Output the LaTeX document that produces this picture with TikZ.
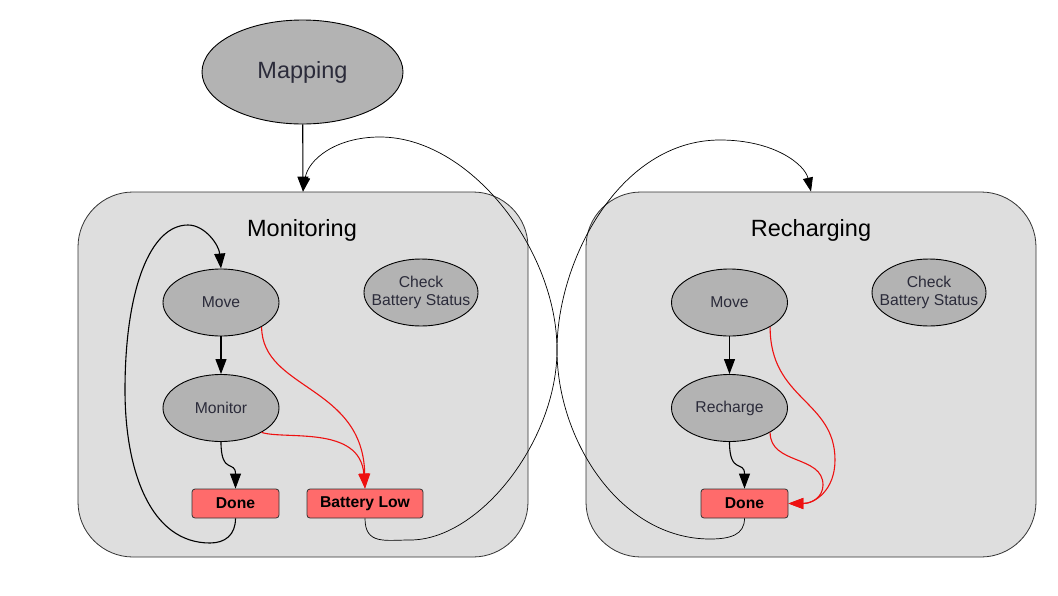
\documentclass[tikz,border=0pt]{standalone}
\usepackage{fontspec}
\setmainfont{Liberation Sans}
\usetikzlibrary{shapes.geometric,arrows.meta}
\definecolor{ellfill}{HTML}{B3B3B3}
\definecolor{boxfill}{HTML}{DEDEDE}
\definecolor{redfill}{HTML}{FF6B6B}
\definecolor{txt}{HTML}{2B2B3A}
\definecolor{edgered}{HTML}{EE1111}
\definecolor{outl}{HTML}{333333}
\begin{document}
\begin{tikzpicture}[x=1pt,y=-1pt,
  state/.style={ellipse, draw=black, line width=0.9pt, fill=ellfill, minimum width=116pt, minimum height=67pt, inner sep=0pt, font=\fontsize{15.7}{18}\selectfont, text=txt, align=center},
  outcome/.style={rectangle, rounded corners=3pt, draw=outl, line width=0.8pt, fill=redfill, minimum height=29pt, inner sep=0pt, font=\fontsize{15.7}{18}\selectfont\bfseries, text=black},
  container/.style={rectangle, rounded corners=55pt, draw=outl, line width=0.8pt, fill=boxfill, minimum width=450pt, minimum height=365pt},
  biglabel/.style={font=\fontsize{23.5}{28}\selectfont, text=black},
  conn/.style={line width=1.1pt, -{Triangle[length=15pt,width=11pt]}},
  redconn/.style={line width=1.1pt, draw=edgered, -{Triangle[length=15pt,width=11pt]}, edgered},
  thinconn/.style={line width=0.7pt, -{Triangle[length=14pt,width=10pt]}}
]
\useasboundingbox (0,0) rectangle (1058,595);
\fill[white] (0,0) rectangle (1058,595);

% containers
\node[container] (monbox) at (303,374.5) {};
\node[container] (recbox) at (811,374.5) {};
\node[biglabel] (monlbl) at (302,230) {Monitoring};
\node[biglabel] (reclbl) at (811,230) {Recharging};

% nodes
\node[state, minimum width=201pt, minimum height=104pt, font=\fontsize{23.5}{28}\selectfont] (map) at (302.5,72) {Mapping};
\node[state] (mv1) at (221,302.5) {Move};
\node[state] (mon) at (221,408) {Monitor};
\node[state, minimum width=114pt, inner xsep=-14pt] (chk1) at (421,292.5) {Check\\Battery Status};
\node[outcome, minimum width=87pt] (done1) at (235.5,503.5) {Done};
\node[outcome, minimum width=116pt] (low) at (365,503.5) {Battery Low};

\node[state] (mv2) at (729.5,302.5) {Move};
\node[state] (rch) at (729.5,408) {Recharge};
\node[state, minimum width=114pt, inner xsep=-14pt] (chk2) at (929,292.5) {Check\\Battery Status};
\node[outcome, minimum width=87pt] (done2) at (744.5,503.5) {Done};

% thin crossing transitions between containers
\draw[thinconn] (low.south) .. controls (365,545) and (385,540) .. (410,540)
  .. controls (480,540) and (557,440) .. (557,350)
  .. controls (557,260) and (620,140) .. (720,140)
  .. controls (775,140) and (805,165) .. (recbox.north);
\draw[thinconn] (done2.south) .. controls (744.5,535) and (730,539) .. (710,539)
  .. controls (620,539) and (557,440) .. (557,350)
  .. controls (557,250) and (470,137) .. (380,137)
  .. controls (335,137) and (308,160) .. (monbox.north);

% mapping to monitoring
\draw[conn] (map) -- (monbox.north);

% monitoring internals
\draw[conn] (mv1) -- (mon);
\draw[conn] (mon.south) .. controls (221,475) and (235.5,460) .. (done1.north);
\draw[conn] (done1.south) .. controls (235.5,535) and (225,543) .. (210,543)
  .. controls (150,543) and (125,470) .. (125,390)
  .. controls (125,290) and (150,225) .. (188,225)
  .. controls (205,225) and (219,245) .. (mv1.north);
\draw[redconn] (mv1.-31) .. controls (262,390) and (363,385) .. (low.north);
\draw[redconn] (mon.-31) .. controls (285,440) and (360,425) .. (low.north);

% recharging internals
\draw[conn] (mv2) -- (rch);
\draw[conn] (rch.south) .. controls (729.5,475) and (744.5,460) .. (done2.north);
\draw[redconn] (mv2.-31) .. controls (770,400) and (835,400) .. (835,460)
  .. controls (835,490) and (815,503.5) .. (done2.east);
\draw[redconn] (rch.-31) .. controls (770,465) and (823,455) .. (823,485)
  .. controls (823,497) and (812,503.5) .. (done2.east);
\end{tikzpicture}
\end{document}
